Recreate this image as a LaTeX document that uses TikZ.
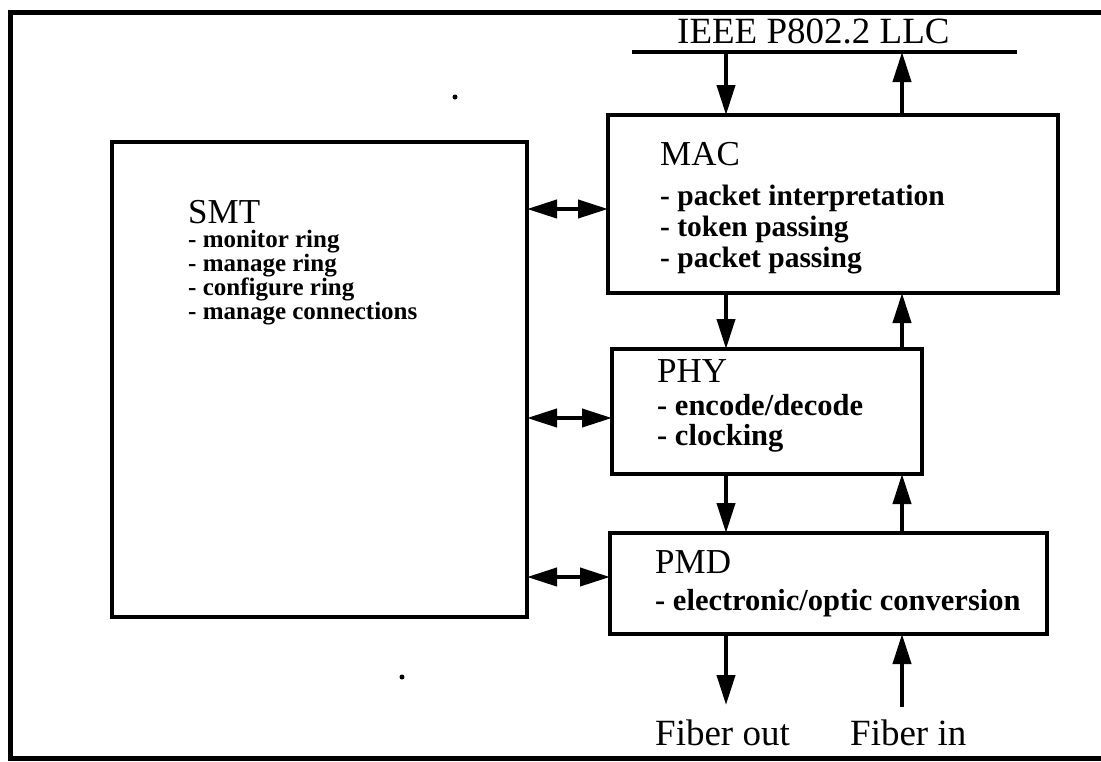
\documentclass[tikz,border=0pt]{standalone}
\usepackage{fontspec}
\setmainfont{Liberation Serif}
\usetikzlibrary{arrows.meta}
\begin{document}
\begin{tikzpicture}[x=1pt,y=-1pt,
  box/.style={draw, line width=4pt, rectangle, anchor=north west, inner sep=0pt, outer sep=0pt},
  head/.style={anchor=base west, inner sep=0pt, font=\fontsize{35}{38}\selectfont},
  label/.style={anchor=base west, inner sep=0pt, font=\fontsize{37}{40}\selectfont},
  body/.style={anchor=base west, inner sep=0pt, font=\bfseries\fontsize{29.5}{31}\selectfont},
  widebody/.style={anchor=base west, inner sep=0pt, font=\bfseries\fontsize{30.5}{32}\selectfont},
  smtbody/.style={anchor=base west, inner sep=0pt, font=\bfseries\fontsize{25}{27}\selectfont},
  arr/.style={line width=4pt, -{Triangle[length=30pt,width=18pt]}},
  darr/.style={line width=4pt, {Triangle[length=30pt,width=18pt]}-{Triangle[length=30pt,width=18pt]}},
]
\useasboundingbox (0,0) rectangle (1101,761);
% outer frame (open on the right)
\draw[line width=5pt] (1101,12) -- (10,12) -- (10,758) -- (1101,758);

% boxes
\node[box, minimum width=415pt, minimum height=475pt] (smt) at (112,142) {};
\node[box, minimum width=450pt, minimum height=178pt] (mac) at (608,115) {};
\node[box, minimum width=310pt, minimum height=125pt] (phy) at (612,349) {};
\node[box, minimum width=437pt, minimum height=101pt] (pmd) at (610,533) {};

% SMT text
\node[head] (smtH) at (188,223) {SMT};
\node[smtbody] (smt1) at (188,247) {- monitor ring};
\node[smtbody] (smt2) at (188,271) {- manage ring};
\node[smtbody] (smt3) at (188,295) {- configure ring};
\node[smtbody] (smt4) at (188,319) {- manage connections};

% MAC text
\node[head] (macH) at (660,165) {MAC};
\node[body] (mac1) at (660,205) {- packet interpretation};
\node[body] (mac2) at (660,236) {- token passing};
\node[body] (mac3) at (660,267) {- packet passing};

% PHY text
\node[head] (phyH) at (657,382) {PHY};
\node[widebody] (phy1) at (657,415) {- encode/decode};
\node[widebody] (phy2) at (657,445) {- clocking};

% PMD text
\node[head] (pmdH) at (655,573) {PMD};
\node[widebody] (pmd1) at (655,610) {- electronic/optic conversion};

% LLC
\node[label] (llc) at (677,43) {IEEE P802.2 LLC};
\coordinate (llcL) at (632,52);
\coordinate (llcR) at (1017,52);
\draw[line width=4pt] (llcL) -- (llcR);

% vertical arrows
\coordinate (dn) at (726,0);
\coordinate (up) at (902,0);
\draw[arr] (dn |- llcL) -- (dn |- mac.north);
\draw[arr] (up |- mac.north) -- (up |- llcL);
\draw[arr] (dn |- mac.south) -- (dn |- phy.north);
\draw[arr] (up |- phy.north) -- (up |- mac.south);
\draw[arr] (dn |- phy.south) -- (dn |- pmd.north);
\draw[arr] (up |- pmd.north) -- (up |- phy.south);
\coordinate (fo) at (726,705);
\coordinate (fi) at (902,707);
\draw[arr] (dn |- pmd.south) -- (fo);
\draw[arr] (fi) -- (up |- pmd.south);

% fiber labels
\node[label] (fout) at (655,745) {Fiber out};
\node[label] (fin) at (850,745) {Fiber in};

% double arrows to SMT
\coordinate (ya) at (0,209);
\coordinate (yb) at (0,418);
\coordinate (yc) at (0,577);
\draw[darr] (smt.east |- ya) -- (mac.west |- ya);
\draw[darr] (smt.east |- yb) -- (phy.west |- yb);
\draw[darr] (smt.east |- yc) -- (pmd.west |- yc);

% specks
\fill (455,97) circle (2.5pt);
\fill (402,677) circle (2.5pt);
\end{tikzpicture}
\end{document}
